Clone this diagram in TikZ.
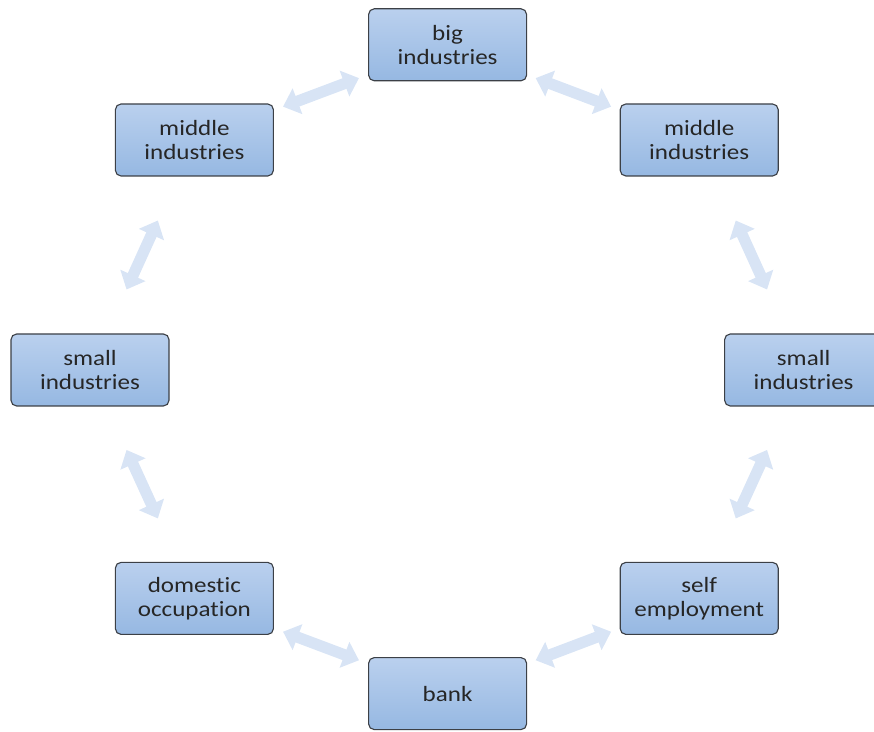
\documentclass[tikz,border=0pt]{standalone}
\usepackage{fontspec}
\setmainfont{Carlito}[FakeStretch=1.15,Ligatures=NoCommon]
\usetikzlibrary{arrows.meta,calc}

\definecolor{boxtop}{RGB}{186,208,238}
\definecolor{boxbottom}{RGB}{150,184,226}
\definecolor{boxline}{RGB}{60,64,70}
\definecolor{linkblue}{RGB}{216,228,245}
\definecolor{textgray}{RGB}{38,38,38}

\tikzset{
  stage/.style={rectangle, rounded corners=4pt, draw=boxline, line width=0.8pt,
    top color=boxtop, bottom color=boxbottom, text=textgray, align=center,
    minimum width=3.95cm, minimum height=1.8cm,
    font=\fontsize{15.5}{17}\selectfont},
  link/.style={draw=linkblue, line width=8pt,
    {Triangle[length=11pt,width=19pt]}-{Triangle[length=11pt,width=19pt]}}
}

\begin{document}
\begin{tikzpicture}

  \useasboundingbox (0,0) rectangle (21.85,18.3);

  % Boxes round the circle
  \node[stage] (big) at (11.19,17.18) {big\\industries};
  \node[stage] (midL) at (4.86,14.8) {middle\\industries};
  \node[stage] (midR) at (17.48,14.8) {middle\\industries};
  \node[stage] (smallL) at (2.25,9.05) {small\\industries};
  \node[stage] (smallR) at (20.09,9.05) {small\\industries};
  \node[stage] (domestic) at (4.86,3.34) {domestic\\occupation};
  \node[stage] (self) at (17.48,3.34) {self\\employment};
  \node[stage] (bank) at (11.19,0.96) {bank};

  % Two-way arrows between neighbours
  \draw[link] ($(big)!.35!(midR)$) -- ($(big)!.65!(midR)$);
  \draw[link] ($(big)!.35!(midL)$) -- ($(big)!.65!(midL)$);
  \draw[link] ($(midL)!.35!(smallL)$) -- ($(midL)!.65!(smallL)$);
  \draw[link] ($(smallL)!.35!(domestic)$) -- ($(smallL)!.65!(domestic)$);
  \draw[link] ($(domestic)!.35!(bank)$) -- ($(domestic)!.65!(bank)$);
  \draw[link] ($(bank)!.35!(self)$) -- ($(bank)!.65!(self)$);
  \draw[link] ($(self)!.35!(smallR)$) -- ($(self)!.65!(smallR)$);
  \draw[link] ($(smallR)!.35!(midR)$) -- ($(smallR)!.65!(midR)$);

\end{tikzpicture}
\end{document}
